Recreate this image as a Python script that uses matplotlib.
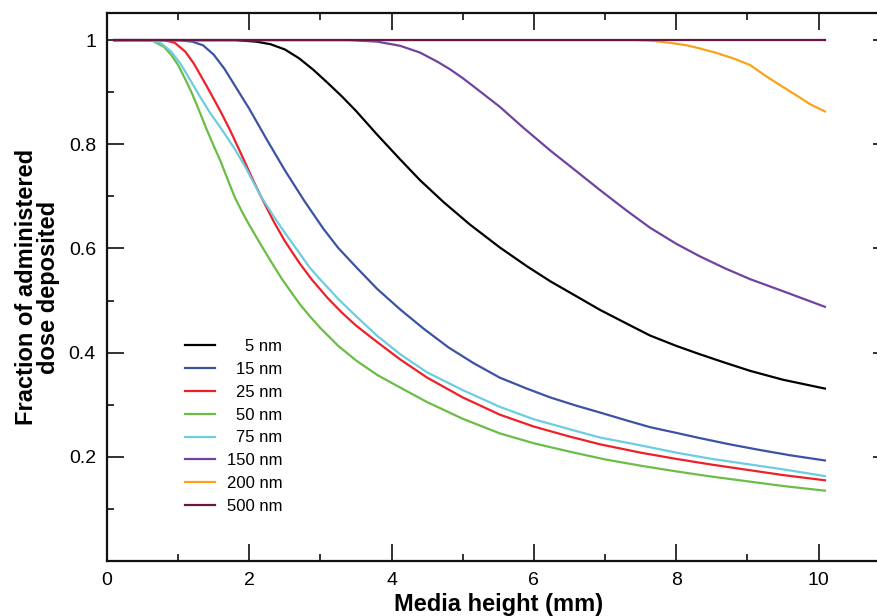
import matplotlib
matplotlib.use("Agg")
import matplotlib.pyplot as plt
from matplotlib.ticker import MultipleLocator, FixedLocator, FixedFormatter

plt.rcParams['font.family'] = ['Liberation Sans', 'DejaVu Sans']

labels = ["5 nm", "15 nm", "25 nm", "50 nm", "75 nm", "150 nm", "200 nm", "500 nm"]
colors = ["#000000", "#3B53A4", "#EE2028", "#6BBD45", "#6CCDE0", "#7043A0", "#F8A31B", "#6A1645"]

x_5 = [0.1, 1.8, 2.1, 2.3, 2.5, 2.7, 2.9, 3.1, 3.3, 3.5, 3.8, 4.12, 4.4, 4.73, 5.1, 5.52, 5.9, 6.23, 6.6, 6.93, 7.3, 7.63, 8.0, 8.33, 8.7, 9.04, 9.5, 10.09]
y_5 = [1.0, 1.0, 0.997, 0.992, 0.982, 0.965, 0.943, 0.918, 0.892, 0.864, 0.818, 0.771, 0.731, 0.689, 0.646, 0.602, 0.566, 0.537, 0.508, 0.482, 0.456, 0.433, 0.413, 0.397, 0.38, 0.365, 0.348, 0.331]

x_15 = [0.1, 1.0, 1.2, 1.35, 1.5, 1.65, 1.8, 2.0, 2.25, 2.5, 2.77, 3.04, 3.25, 3.51, 3.8, 4.12, 4.45, 4.8, 5.15, 5.52, 5.9, 6.23, 6.6, 6.93, 7.3, 7.63, 8.0, 8.33, 8.75, 9.18, 9.6, 10.09]
y_15 = [1.0, 1.0, 0.997, 0.99, 0.972, 0.945, 0.912, 0.868, 0.808, 0.75, 0.692, 0.638, 0.601, 0.563, 0.522, 0.483, 0.446, 0.41, 0.38, 0.352, 0.331, 0.314, 0.298, 0.285, 0.27, 0.257, 0.246, 0.236, 0.224, 0.213, 0.203, 0.193]

x_25 = [0.1, 0.8, 0.95, 1.1, 1.22, 1.4, 1.6, 1.73, 1.9, 2.05, 2.17, 2.35, 2.5, 2.71, 2.88, 3.1, 3.3, 3.5, 3.8, 4.12, 4.5, 5.0, 5.52, 6.0, 6.5, 6.93, 7.5, 8.0, 8.5, 9.0, 9.5, 10.09]
y_25 = [1.0, 1.0, 0.995, 0.978, 0.955, 0.912, 0.862, 0.827, 0.777, 0.732, 0.698, 0.65, 0.614, 0.571, 0.54, 0.505, 0.477, 0.452, 0.42, 0.387, 0.352, 0.314, 0.281, 0.258, 0.239, 0.224, 0.208, 0.196, 0.185, 0.175, 0.165, 0.155]

x_50 = [0.1, 0.5, 0.65, 0.8, 0.9, 1.0, 1.1, 1.2, 1.3, 1.405, 1.5, 1.6, 1.7, 1.8, 1.9, 2.0, 2.15, 2.3, 2.46, 2.6, 2.71, 2.85, 3.0, 3.25, 3.5, 3.8, 4.12, 4.5, 5.0, 5.52, 6.0, 6.5, 7.0, 7.5, 8.0, 8.5, 9.0, 9.5, 10.09]
y_50 = [1.0, 1.0, 0.998, 0.987, 0.972, 0.952, 0.925, 0.896, 0.863, 0.827, 0.797, 0.766, 0.731, 0.697, 0.67, 0.645, 0.61, 0.576, 0.541, 0.514, 0.493, 0.47, 0.447, 0.413, 0.385, 0.357, 0.333, 0.305, 0.273, 0.245, 0.226, 0.21, 0.195, 0.183, 0.172, 0.162, 0.153, 0.144, 0.135]

x_75 = [0.1, 0.6, 0.75, 0.9, 1.03, 1.15, 1.3, 1.45, 1.62, 1.8, 1.95, 2.15, 2.35, 2.5, 2.71, 2.85, 3.0, 3.25, 3.5, 3.8, 4.12, 4.5, 5.0, 5.52, 6.0, 6.5, 6.93, 7.5, 8.0, 8.5, 9.0, 9.5, 10.09]
y_75 = [1.0, 1.0, 0.995, 0.978, 0.955, 0.928, 0.893, 0.86, 0.827, 0.79, 0.755, 0.703, 0.66, 0.63, 0.59, 0.563, 0.54, 0.503, 0.47, 0.432, 0.397, 0.362, 0.328, 0.296, 0.272, 0.253, 0.237, 0.222, 0.208, 0.196, 0.186, 0.176, 0.163]

x_150 = [0.1, 3.4, 3.8, 4.12, 4.4, 4.65, 4.82, 5.0, 5.2, 5.52, 5.85, 6.23, 6.6, 6.93, 7.3, 7.63, 8.0, 8.33, 8.7, 9.04, 9.5, 10.09]
y_150 = [1.0, 1.0, 0.997, 0.989, 0.976, 0.958, 0.944, 0.927, 0.906, 0.872, 0.832, 0.788, 0.748, 0.712, 0.673, 0.64, 0.609, 0.585, 0.561, 0.541, 0.518, 0.488]

x_200 = [0.1, 7.4, 7.63, 7.9, 8.15, 8.33, 8.55, 8.8, 9.04, 9.27, 9.5, 9.7, 9.88, 10.09]
y_200 = [1.0, 1.0, 0.999, 0.995, 0.99, 0.984, 0.976, 0.965, 0.952, 0.93, 0.91, 0.893, 0.877, 0.863]

x_500 = [0.1, 10.09]
y_500 = [1.0, 1.0]

xs = [x_5, x_15, x_25, x_50, x_75, x_150, x_200, x_500]
ys = [y_5, y_15, y_25, y_50, y_75, y_150, y_200, y_500]

ytick_vals = [0.2, 0.4, 0.6, 0.8, 1.0]
ytick_labels = ["0.2", "0.4", "0.6", "0.8", "1"]
xtick_vals = [0, 2, 4, 6, 8, 10]

FW, FH = 878, 616
fig = plt.figure(figsize=(FW / 100, FH / 100), dpi=100)
L, B = 107 / FW, 1 - 561 / FH
W = (71.15 * 11) / FW
H = (561 - 13) / FH
ax = fig.add_axes([L, B, W, H])

handles = []
for xv, yv, c, lab in zip(xs, ys, colors, labels):
    h, = ax.plot(xv, yv, color=c, lw=1.6, label=lab)
    handles.append(h)

ax.set_xlim(0, 11)
ax.set_ylim(0, 1.052)

ax.xaxis.set_major_locator(FixedLocator(xtick_vals))
ax.xaxis.set_minor_locator(MultipleLocator(1))
ax.yaxis.set_major_locator(FixedLocator(ytick_vals))
ax.yaxis.set_major_formatter(FixedFormatter(ytick_labels))
ax.yaxis.set_minor_locator(MultipleLocator(0.1))

ax.tick_params(which='both', direction='in', top=True, right=True, colors='#222222', labelcolor='black', labelsize=14)
ax.tick_params(which='major', length=12, width=1.3, pad=8)
ax.tick_params(which='minor', length=5, width=1.3)
for s in ax.spines.values():
    s.set_linewidth(1.6)
    s.set_color('#111111')

ax.set_xlabel("Media height (mm)", fontsize=17, fontweight='bold', labelpad=3)
ax.set_ylabel("Fraction of administered\ndose deposited", fontsize=17, fontweight='bold', labelpad=6, linespacing=0.95)

leg = ax.legend(handles=handles, loc='upper left', bbox_to_anchor=(185 / FW, 1 - 339 / FH),
                bbox_transform=fig.transFigure, frameon=False, fontsize=12,
                handlelength=1.8, handletextpad=0.7, labelspacing=0.47, borderpad=0, borderaxespad=0)
fig.canvas.draw()
renderer = fig.canvas.get_renderer()
texts = leg.get_texts()
bbs = [t.get_window_extent(renderer) for t in texts]
right = min(b.x0 for b in bbs) + max(b.width for b in bbs)
for t, b in zip(texts, bbs):
    t.set_visible(False)
    fig.text(right / FW, b.y0 / FH, t.get_text(), ha='right', va='bottom', fontsize=12)

fig.savefig("out.png", dpi=100)
